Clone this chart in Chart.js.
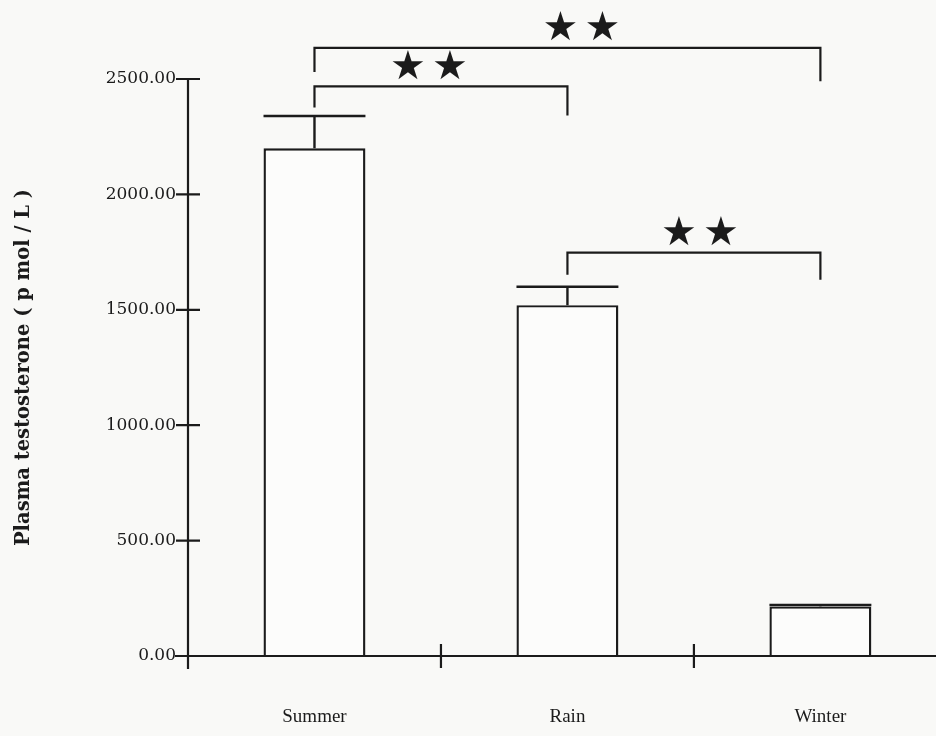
<!DOCTYPE html>
<html>
<head>
<meta charset="utf-8">
<script src="https://cdn.jsdelivr.net/npm/chart.js@4.4.1/dist/chart.umd.min.js"></script>
<style>
  html, body { margin: 0; padding: 0; background: #f9f9f7; }
  canvas { display: block; }
</style>
</head>
<body>
<canvas id="chart" width="936" height="736"></canvas>
<script>
// Plasma testosterone by season (mean ± SE, pmol/L)
const seasons = ['Summer', 'Rain', 'Winter'];
const testosterone = [2200, 1520, 215];
const stdError = [140, 80, 6];
const yTicks = [0, 500, 1000, 1500, 2000, 2500];
const separatorTicks = [0.5, 1.5];

// Significance comparisons between seasons (bracket heights in pmol/L)
const comparisonPairs = [[0, 2], [0, 1], [1, 2]];
const bracketLevels = [2635, 2468, 1748];
const bracketLeftEnds = [2530, 2376, 1652];
const bracketRightEnds = [2490, 2342, 1630];
const significance = ['★★', '★★', '★★'];

const ink = '#1b1b1b';

const paper = {
  id: 'paper',
  beforeDraw(chart) {
    const { ctx, width, height } = chart;
    ctx.save();
    ctx.fillStyle = '#f9f9f7';
    ctx.fillRect(0, 0, width, height);
    ctx.restore();
  }
};

const errorBars = {
  id: 'errorBars',
  afterDatasetsDraw(chart) {
    const { ctx, scales: { y } } = chart;
    const meta = chart.getDatasetMeta(0);
    ctx.save();
    ctx.strokeStyle = ink;
    ctx.lineWidth = 2.4;
    meta.data.forEach((bar, i) => {
      const top = y.getPixelForValue(testosterone[i] + stdError[i]);
      const half = bar.width / 2;
      ctx.beginPath();
      ctx.moveTo(bar.x, bar.y);
      ctx.lineTo(bar.x, top);
      ctx.moveTo(bar.x - half, top);
      ctx.lineTo(bar.x + half, top);
      ctx.stroke();
    });
    ctx.restore();
  }
};

const axesAndBrackets = {
  id: 'axesAndBrackets',
  afterDraw(chart, args, opts) {
    const { ctx, chartArea, scales: { x, y } } = chart;
    const left = chartArea.left;
    const zeroY = y.getPixelForValue(0);
    const tick = 12;
    ctx.save();
    ctx.strokeStyle = ink;
    ctx.lineWidth = 2.2;
    ctx.lineCap = 'butt';

    // axis lines
    ctx.beginPath();
    ctx.moveTo(left, y.getPixelForValue(yTicks[yTicks.length - 1]));
    ctx.lineTo(left, zeroY + tick + 1);
    ctx.moveTo(left - tick - 1, zeroY);
    ctx.lineTo(chart.width, zeroY);
    ctx.stroke();

    // tick marks crossing the axes
    ctx.beginPath();
    yTicks.forEach(v => {
      const py = y.getPixelForValue(v);
      ctx.moveTo(left - tick, py);
      ctx.lineTo(left + tick, py);
    });
    separatorTicks.forEach(v => {
      const px = x.getPixelForValue(v);
      ctx.moveTo(px, zeroY - tick);
      ctx.lineTo(px, zeroY + tick);
    });
    ctx.stroke();

    // significance brackets with star markers
    ctx.fillStyle = ink;
    ctx.font = '40px "DejaVu Sans"';
    ctx.textAlign = 'center';
    ctx.textBaseline = 'middle';
    comparisonPairs.forEach(([a, b], k) => {
      const x1 = x.getPixelForValue(a);
      const x2 = x.getPixelForValue(b);
      const yl = y.getPixelForValue(bracketLevels[k]);
      ctx.beginPath();
      ctx.moveTo(x1, y.getPixelForValue(bracketLeftEnds[k]));
      ctx.lineTo(x1, yl);
      ctx.lineTo(x2, yl);
      ctx.lineTo(x2, y.getPixelForValue(bracketRightEnds[k]));
      ctx.stroke();
      const marks = [...significance[k]];
      const mid = (x1 + x2) / 2 + (opts.markShift[k] || 0);
      marks.forEach((m, j) => {
        ctx.fillText(m, mid + (j - (marks.length - 1) / 2) * 42, yl - 18);
      });
    });
    ctx.restore();
  }
};

new Chart(document.getElementById('chart'), {
  type: 'bar',
  data: {
    datasets: [{
      data: seasons.map((s, i) => ({ x: i, y: testosterone[i] })),
      backgroundColor: '#fcfcfb',
      borderColor: ink,
      borderWidth: 2.4,
      borderSkipped: 'bottom',
      categoryPercentage: 0.403,
      barPercentage: 1
    }]
  },
  options: {
    responsive: false,
    animation: false,
    layout: { padding: { top: 79, left: 0, right: 0, bottom: 0 } },
    plugins: {
      legend: { display: false },
      tooltip: { enabled: false },
      axesAndBrackets: { markShift: [14, -12, 6] }
    },
    scales: {
      x: {
        type: 'linear',
        offset: false,
        min: -0.5,
        max: 2.457,
        afterBuildTicks(scale) { scale.ticks = seasons.map((s, i) => ({ value: i })); },
        afterFit(scale) { scale.height = 80; },
        grid: { display: false, drawTicks: false, offset: false },
        border: { display: false },
        ticks: {
          padding: 50,
          color: ink,
          font: { family: '"Liberation Serif"', size: 19 },
          callback: v => seasons[v] ?? ''
        }
      },
      y: {
        min: 0,
        max: 2500,
        afterBuildTicks(scale) { scale.ticks = yTicks.map(v => ({ value: v })); },
        afterFit(scale) { scale.width = 188; },
        grid: { display: false, drawTicks: false },
        border: { display: false },
        ticks: {
          padding: 12,
          color: ink,
          font: { family: '"DejaVu Serif"', size: 17 },
          callback: v => Number(v).toFixed(2)
        },
        title: {
          display: true,
          text: 'Plasma testosterone ( p mol / L )',
          color: ink,
          padding: { top: 12, bottom: 0 },
          font: { family: '"DejaVu Serif"', size: 19.5, weight: 'bold' }
        }
      }
    }
  },
  plugins: [paper, errorBars, axesAndBrackets]
});
</script>
</body>
</html>
